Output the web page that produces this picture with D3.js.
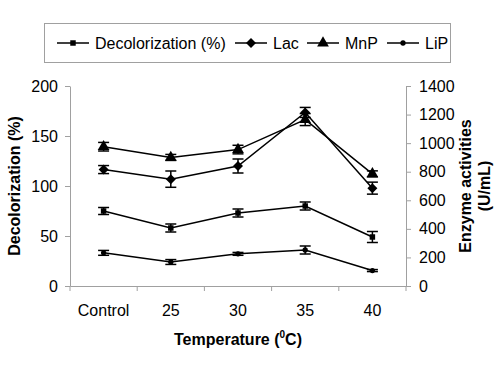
<!DOCTYPE html>
<html><head><meta charset="utf-8">
<script src="https://cdn.jsdelivr.net/npm/d3@7"></script>
<style>body{margin:0;background:#fff}svg{display:block}text{font-family:"Liberation Sans",Arial,sans-serif}</style>
</head><body>
<script>
const categories = ["Control","25","30","35","40"];
const decolorization = [75, 58, 73, 80, 49];
const decolorizationErr = [3.5, 4, 4, 4, 5.5];
const lac = [815, 748, 840, 1215, 685];
const lacErr = [28, 57, 49, 35, 42];
const mnp = [975, 900, 955, 1165, 785];
const mnpErr = [30, 21, 30, 42, 21];
const lip = [232, 168, 225, 252, 108];
const lipErr = [17, 17, 10, 28, 7];
const leftTicks = [0, 50, 100, 150, 200];
const rightTicks = [0, 200, 400, 600, 800, 1000, 1200, 1400];

const W = 500, H = 367;
const m = {left: 70, right: 94, top: 86, bottom: 81};
const svg = d3.select("body").append("svg").attr("width", W).attr("height", H);

const x = d3.scaleBand().domain(categories).range([m.left, W - m.right]);
const yL = d3.scaleLinear().domain([0, 200]).range([H - m.bottom, m.top]);
const yR = d3.scaleLinear().domain([0, 1400]).range([H - m.bottom, m.top]);
const axisColor = "#a0a0a0";

// axes
const gx = svg.append("g").attr("transform", `translate(0,${H - m.bottom})`)
  .call(d3.axisBottom(x).tickSize(0).tickPadding(19));
gx.selectAll("line.bt").data(d3.range(categories.length + 1)).enter().append("line")
  .attr("class","bt")
  .attr("x1", i => m.left + i * x.step()).attr("x2", i => m.left + i * x.step())
  .attr("y1", 0).attr("y2", 5).attr("stroke", axisColor);

const gl = svg.append("g").attr("transform", `translate(${m.left},0)`)
  .call(d3.axisLeft(yL).tickValues(leftTicks).tickSize(5).tickPadding(7).tickSizeOuter(0));
const gr = svg.append("g").attr("transform", `translate(${W - m.right},0)`)
  .call(d3.axisRight(yR).tickValues(rightTicks).tickFormat(d3.format("d")).tickSize(5).tickPadding(8).tickSizeOuter(0));

[gx, gl, gr].forEach(g => {
  g.select(".domain").attr("stroke", axisColor);
  g.selectAll(".tick line").attr("stroke", axisColor);
  g.selectAll("text").attr("font-size", 16).attr("fill", "#000")
    .attr("font-family", '"Liberation Sans",Arial,sans-serif');
});

// titles
svg.append("text").attr("transform", `translate(20,${(m.top + H - m.bottom) / 2}) rotate(-90)`)
  .attr("text-anchor", "middle").attr("font-size", 16).attr("font-weight", "bold")
  .text("Decolorization (%)");
const rt = svg.append("text").attr("transform", `translate(471,${(m.top + H - m.bottom) / 2}) rotate(-90)`)
  .attr("text-anchor", "middle").attr("font-size", 16).attr("font-weight", "bold");
rt.append("tspan").attr("x", 0).attr("dy", 0).text("Enzyme activities");
rt.append("tspan").attr("x", 0).attr("dy", 19).text("(U/mL)");
const xt = svg.append("text").attr("x", (m.left + W - m.right) / 2).attr("y", 345)
  .attr("text-anchor", "middle").attr("font-size", 16).attr("font-weight", "bold");
xt.append("tspan").text("Temperature (");
xt.append("tspan").attr("font-size", 10).attr("dy", -7).text("0");
xt.append("tspan").attr("dy", 7).text("C)");

// series
const cx = c => x(c) + x.bandwidth() / 2;
const series = [
  {name: "Decolorization (%)", vals: decolorization, err: decolorizationErr, y: yL, sym: "square", size: 30},
  {name: "Lac", vals: lac, err: lacErr, y: yR, sym: "diamond", size: 50},
  {name: "MnP", vals: mnp, err: mnpErr, y: yR, sym: "triangle", size: 60},
  {name: "LiP", vals: lip, err: lipErr, y: yR, sym: "circle", size: 22}
];
const symType = {square: d3.symbolSquare, diamond: d3.symbolSquare, triangle: d3.symbolTriangle, circle: d3.symbolCircle};
const symRot = s => s === "diamond" ? " rotate(45)" : "";

series.forEach(s => {
  const g = svg.append("g");
  const pts = categories.map((c, i) => ({c, v: s.vals[i], e: s.err[i]}));
  g.append("path").datum(pts).attr("fill", "none").attr("stroke", "#000").attr("stroke-width", 1.5)
    .attr("d", d3.line().x(d => cx(d.c)).y(d => s.y(d.v)));
  pts.forEach(d => {
    const X = cx(d.c), y1 = s.y(d.v + d.e), y2 = s.y(d.v - d.e);
    g.append("line").attr("x1", X).attr("x2", X).attr("y1", y1).attr("y2", y2).attr("stroke", "#000").attr("stroke-width", 1.5);
    [y1, y2].forEach(yy => g.append("line").attr("x1", X - 5.5).attr("x2", X + 5.5).attr("y1", yy).attr("y2", yy)
      .attr("stroke", "#000").attr("stroke-width", 1.5));
    g.append("path").attr("transform", `translate(${X},${s.y(d.v)})${symRot(s.sym)}`)
      .attr("d", d3.symbol().type(symType[s.sym]).size(s.size)()).attr("fill", "#000");
  });
});

// legend
svg.append("rect").attr("x", 44.5).attr("y", 23.5).attr("width", 406).attr("height", 39)
  .attr("fill", "#fff").attr("stroke", "#a0a0a0");
const legendX = [57, 235, 307, 387];
series.forEach((s, i) => {
  const lx = legendX[i], ly = 43;
  svg.append("line").attr("x1", lx).attr("x2", lx + 32).attr("y1", ly).attr("y2", ly)
    .attr("stroke", "#000").attr("stroke-width", 1.5);
  svg.append("path").attr("transform", `translate(${lx + 16},${ly})${symRot(s.sym)}`)
    .attr("d", d3.symbol().type(symType[s.sym]).size(s.size)()).attr("fill", "#000");
  svg.append("text").attr("x", lx + 38).attr("y", ly + 6).attr("font-size", 16).text(s.name);
});
</script>
</body></html>
